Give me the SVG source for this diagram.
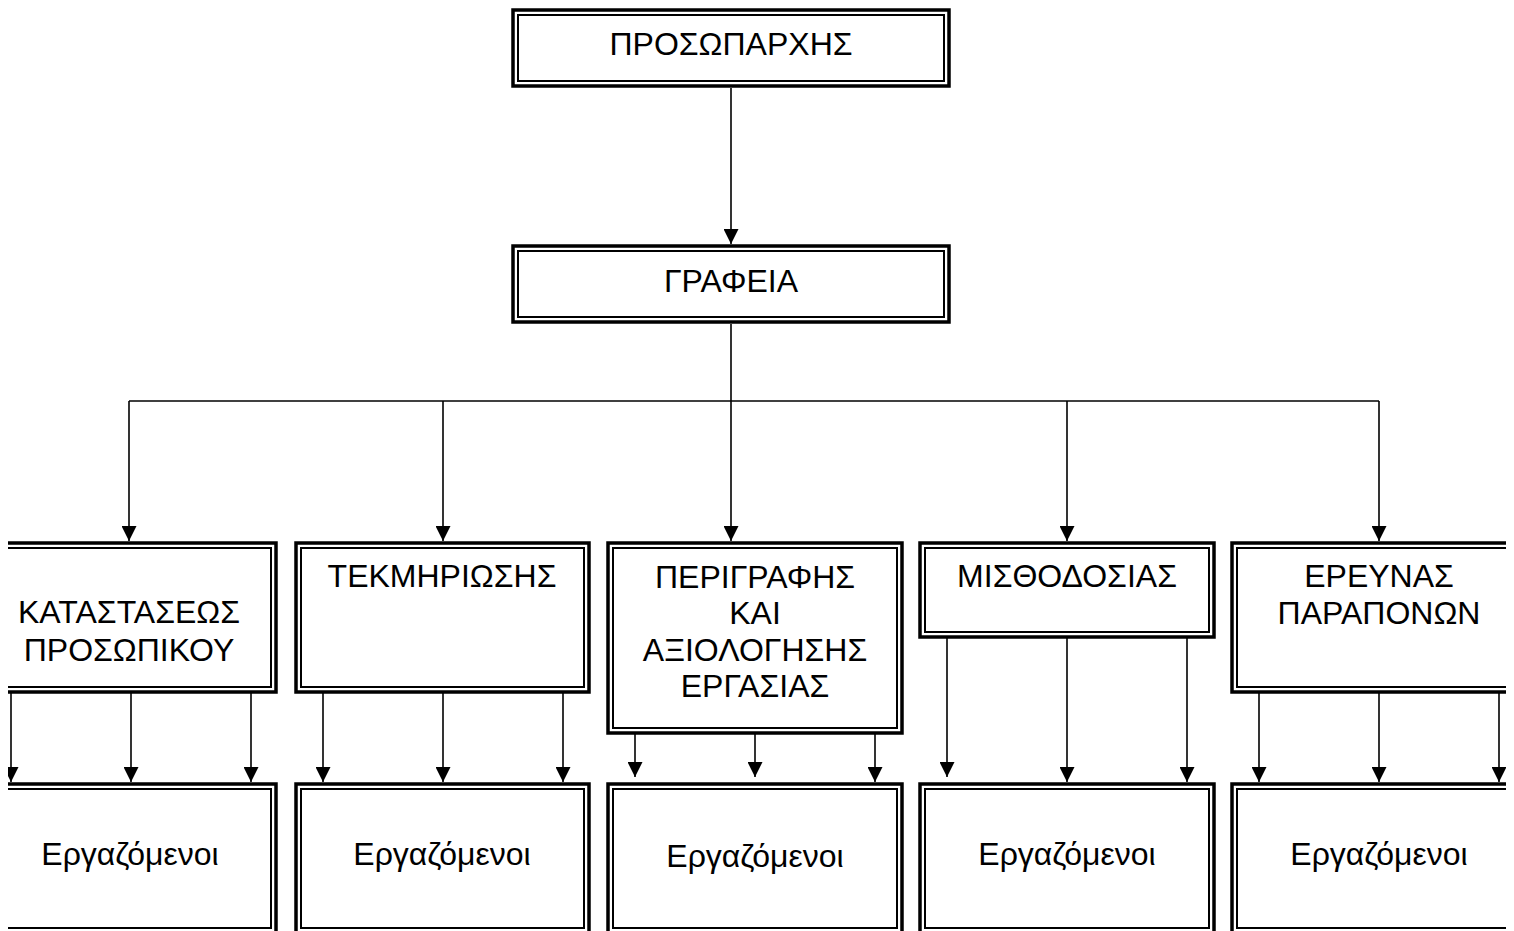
<svg xmlns="http://www.w3.org/2000/svg" width="1514" height="931" viewBox="0 0 1514 931">
<style>
.o{fill:#fff;stroke:#000;stroke-width:3.5}
.i{fill:none;stroke:#000;stroke-width:2}
.t{font-family:"Liberation Sans",Arial,sans-serif;font-size:32px;fill:#000;text-anchor:middle}
.c line{stroke:#000;stroke-width:1.6}
</style>
<defs>
<clipPath id="clip"><rect x="8" y="0" width="1498" height="931"/></clipPath>
<marker id="arr" viewBox="0 0 10 10" refX="10" refY="5" markerWidth="15" markerHeight="15" markerUnits="userSpaceOnUse" orient="auto"><path d="M0,0 L10,5 L0,10 z" fill="#000"/></marker>
</defs>
<rect width="1514" height="931" fill="#fff"/>
<g clip-path="url(#clip)">
<g id="n-top"><rect class="o" x="513" y="10" width="436" height="76"/><rect class="i" x="518" y="15" width="426" height="66"/><text class="t" x="731" y="55">ΠΡΟΣΩΠΑΡΧΗΣ</text></g>
<g id="n-grafeia"><rect class="o" x="513" y="246" width="436" height="76"/><rect class="i" x="518" y="251" width="426" height="66"/><text class="t" x="731" y="292">ΓΡΑΦΕΙΑ</text></g>
<g id="n-katastaseos"><rect class="o" x="-17" y="543" width="293" height="149"/><rect class="i" x="-12" y="548" width="283" height="139"/><text class="t" x="129" y="623">ΚΑΤΑΣΤΑΣΕΩΣ</text><text class="t" x="129" y="661">ΠΡΟΣΩΠΙΚΟΥ</text></g>
<g id="n-tekmiriosis"><rect class="o" x="296" y="543" width="293" height="149"/><rect class="i" x="301" y="548" width="283" height="139"/><text class="t" x="442" y="587">ΤΕΚΜΗΡΙΩΣΗΣ</text></g>
<g id="n-perigrafis"><rect class="o" x="608" y="543" width="294" height="190"/><rect class="i" x="613" y="548" width="284" height="180"/><text class="t" x="755" y="588">ΠΕΡΙΓΡΑΦΗΣ</text><text class="t" x="755" y="624">ΚΑΙ</text><text class="t" x="755" y="661">ΑΞΙΟΛΟΓΗΣΗΣ</text><text class="t" x="755" y="697">ΕΡΓΑΣΙΑΣ</text></g>
<g id="n-misthodosias"><rect class="o" x="920" y="543" width="294" height="94"/><rect class="i" x="925" y="548" width="284" height="84"/><text class="t" x="1067" y="587">ΜΙΣΘΟΔΟΣΙΑΣ</text></g>
<g id="n-ereynas"><rect class="o" x="1232" y="543" width="294" height="149"/><rect class="i" x="1237" y="548" width="284" height="139"/><text class="t" x="1379" y="587">ΕΡΕΥΝΑΣ</text><text class="t" x="1379" y="624">ΠΑΡΑΠΟΝΩΝ</text></g>
<g id="n-erg1"><rect class="o" x="-17" y="784" width="293" height="150"/><rect class="i" x="-12" y="789" width="283" height="139"/><text class="t" x="130" y="865">Εργαζόμενοι</text></g>
<g id="n-erg2"><rect class="o" x="296" y="784" width="293" height="150"/><rect class="i" x="301" y="789" width="283" height="139"/><text class="t" x="442" y="865">Εργαζόμενοι</text></g>
<g id="n-erg3"><rect class="o" x="608" y="784" width="294" height="150"/><rect class="i" x="613" y="789" width="284" height="139"/><text class="t" x="755" y="867">Εργαζόμενοι</text></g>
<g id="n-erg4"><rect class="o" x="920" y="784" width="294" height="150"/><rect class="i" x="925" y="789" width="284" height="139"/><text class="t" x="1067" y="865">Εργαζόμενοι</text></g>
<g id="n-erg5"><rect class="o" x="1232" y="784" width="294" height="150"/><rect class="i" x="1237" y="789" width="284" height="139"/><text class="t" x="1379" y="865">Εργαζόμενοι</text></g>
<g id="connectors" class="c">
<line x1="731" y1="88" x2="731" y2="244" marker-end="url(#arr)"/>
<line x1="731" y1="324" x2="731" y2="541" marker-end="url(#arr)"/>
<line x1="129" y1="401" x2="1379" y2="401"/>
<line x1="129" y1="401" x2="129" y2="541" marker-end="url(#arr)"/>
<line x1="443" y1="401" x2="443" y2="541" marker-end="url(#arr)"/>
<line x1="1067" y1="401" x2="1067" y2="541" marker-end="url(#arr)"/>
<line x1="1379" y1="401" x2="1379" y2="541" marker-end="url(#arr)"/>
<line x1="11" y1="692" x2="11" y2="782" marker-end="url(#arr)"/>
<line x1="131" y1="692" x2="131" y2="782" marker-end="url(#arr)"/>
<line x1="251" y1="692" x2="251" y2="782" marker-end="url(#arr)"/>
<line x1="323" y1="692" x2="323" y2="782" marker-end="url(#arr)"/>
<line x1="443" y1="692" x2="443" y2="782" marker-end="url(#arr)"/>
<line x1="563" y1="692" x2="563" y2="782" marker-end="url(#arr)"/>
<line x1="635" y1="733" x2="635" y2="777" marker-end="url(#arr)"/>
<line x1="755" y1="733" x2="755" y2="777" marker-end="url(#arr)"/>
<line x1="875" y1="733" x2="875" y2="782" marker-end="url(#arr)"/>
<line x1="947" y1="636" x2="947" y2="777" marker-end="url(#arr)"/>
<line x1="1067" y1="636" x2="1067" y2="782" marker-end="url(#arr)"/>
<line x1="1187" y1="636" x2="1187" y2="782" marker-end="url(#arr)"/>
<line x1="1259" y1="692" x2="1259" y2="782" marker-end="url(#arr)"/>
<line x1="1379" y1="692" x2="1379" y2="782" marker-end="url(#arr)"/>
<line x1="1499" y1="692" x2="1499" y2="782" marker-end="url(#arr)"/>
</g>
</g>
</svg>
